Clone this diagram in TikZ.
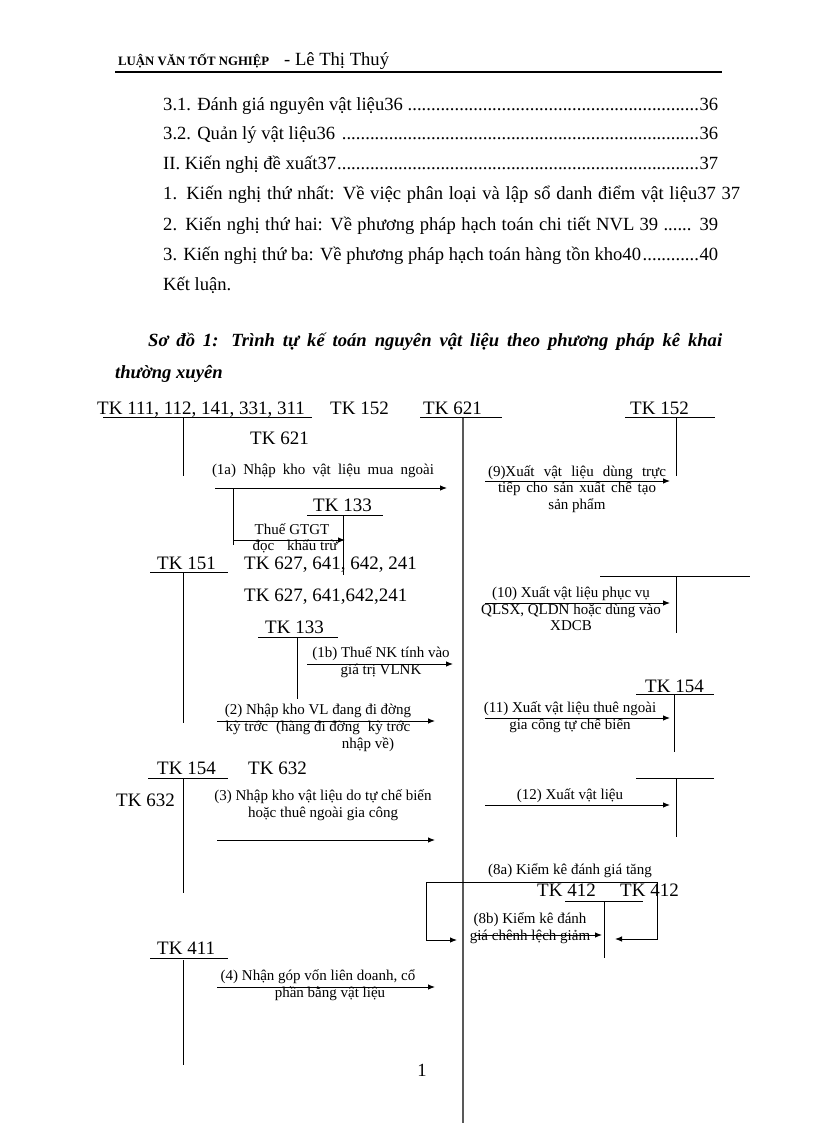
\documentclass[tikz,border=0pt]{standalone}
\usepackage{fontspec}
\setmainfont{Liberation Serif}
\usetikzlibrary{arrows.meta}
\newcommand\densedots{\leaders\hbox to 4.7pt{\hss.\hss}\hfill}
\begin{document}
\begin{tikzpicture}[x=1pt,y=-1pt,
  tk/.style={font=\fontsize{19}{19}\selectfont, inner sep=0, anchor=base west},
  toc/.style={font=\fontsize{18.6}{18.6}\selectfont, inner sep=0, anchor=base west},
  lab/.style={font=\fontsize{15}{16.5}\selectfont, inner sep=0, align=center},
  ln/.style={line width=0.9pt},
  arr/.style={line width=0.9pt, -{Latex[length=7pt,width=5.5pt]}},
  mainln/.style={line width=2pt, draw=black!65}]
\useasboundingbox (0,0) rectangle (816,1123);
\fill[white] (0,0) rectangle (816,1123);
% header
\node[inner sep=0, anchor=base west, font=\bfseries\fontsize{12.8}{12.8}\selectfont] (hd1) at (118,66) {LUẬN VĂN TỐT NGHIỆP};
\node[inner sep=0, anchor=base west, font=\fontsize{18.6}{18.6}\selectfont] (hd2) at (284,66) {- Lê Thị Thuý};
\draw[line width=2pt] (115,72) -- (722,72);
% table of contents
\node[toc] (t1) at (163,111) {\makebox[555pt][l]{3.1. Đánh giá nguyên vật liệu36 \densedots36}};
\node[toc] (t2) at (163,140) {\makebox[555pt][l]{3.2. Quản lý vật liệu36 \densedots36}};
\node[toc] (t3) at (163,170) {\makebox[555pt][l]{II. Kiến nghị đề xuất37\densedots37}};
\node[toc] (t4) at (163,200) {\makebox[577pt][s]{1. Kiến nghị thứ nhất: Về việc phân loại và lập sổ danh điểm vật liệu37 37}};
\node[toc] (t5) at (163,230) {\makebox[555pt][s]{2. Kiến nghị thứ hai: Về phương pháp hạch toán chi tiết NVL 39 ...... 39}};
\node[toc] (t6) at (163,260) {\makebox[555pt][l]{3. Kiến nghị thứ ba: Về phương pháp hạch toán hàng tồn kho40\densedots40}};
\node[toc] (t7) at (163,290) {Kết luận.};
% title
\node[inner sep=0, anchor=base west, font=\bfseries\itshape\fontsize{18.6}{18.6}\selectfont] (ti1) at (148,346) {\makebox[574pt][s]{Sơ đồ 1: Trình tự kế toán nguyên vật liệu theo phương pháp kê khai}};
\node[inner sep=0, anchor=base west, font=\bfseries\itshape\fontsize{18.6}{18.6}\selectfont] (ti2) at (115,378) {thường xuyên};
% account labels
\node[tk] (a111) at (97,414) {TK 111, 112, 141, 331, 311};
\node[tk] (a152l) at (330,414) {TK 152};
\node[tk] (a621) at (423,414) {TK 621};
\node[tk] (a152r) at (630,414) {TK 152};
\node[tk] (a621b) at (250,444) {TK 621};
\node[tk] (a133a) at (313,511) {TK 133};
\node[tk] (a151) at (157,569) {TK 151};
\node[tk] (a627a) at (244,569) {TK 627, 641, 642, 241};
\node[tk] (a627b) at (244,601) {TK 627, 641,642,241};
\node[tk] (a133b) at (265,633) {TK 133};
\node[tk] (a154r) at (645,692) {TK 154};
\node[tk] (a154l) at (157,774) {TK 154};
\node[tk] (a632a) at (248,774) {TK 632};
\node[tk] (a632b) at (116,806) {TK 632};
\node[tk] (a412a) at (537,896) {TK 412};
\node[tk] (a412b) at (620,896) {TK 412};
\node[tk] (a411) at (157,954) {TK 411};
% T-account lines
\draw[ln] (103,417) -- (312,417) (183,417) -- (183,476);
\draw[ln] (420,417) -- (502,417);
\draw[mainln] (463,418) -- (463,1123);
\draw[ln] (625,417) -- (715,417) (676,417) -- (676,476);
\draw[ln] (307,515) -- (383,515) (343,515) -- (343,575);
\draw[ln] (150,572) -- (228,572) (183,572) -- (183,723);
\draw[ln] (258,637) -- (338,637) (297,637) -- (297,699);
\draw[ln] (600,576) -- (750,576) (676,576) -- (676,633);
\draw[ln] (636,694) -- (714,694) (674,694) -- (674,752);
\draw[ln] (148,778) -- (228,778) (183,778) -- (183,893);
\draw[ln] (636,778) -- (714,778) (676,778) -- (676,837);
\draw[ln] (565,901) -- (643,901) (604,901) -- (604,958);
\draw[ln] (150,958) -- (228,958) (183,960) -- (183,1065);
% arrows
\draw[arr] (215,488) -- (447,488);
\draw[ln] (233,488) -- (233,545);
\draw[arr] (233,540) -- (345,540);
\draw[arr] (485,481) -- (670,481);
\draw[arr] (307,664) -- (453,664);
\draw[arr] (485,603) -- (670,603);
\draw[arr] (217,721) -- (435,721);
\draw[arr] (485,718) -- (670,718);
\draw[arr] (485,805) -- (670,805);
\draw[arr] (217,840) -- (435,840);
\draw[arr] (657,882) -- (426,882) -- (426,940) -- (457,940);
\draw[arr] (657,882) -- (657,939) -- (615,939);
\draw[arr] (475,935) -- (602,935);
\draw[arr] (217,987) -- (435,987);
% arrow labels
\node[lab] (l1a) at (323,471) {\makebox[222pt][s]{(1a) Nhập kho vật liệu mua ngoài}};
\node[lab] (l9) at (577,489) {\makebox[178pt][s]{(9)Xuất vật liệu dùng trực}\\\makebox[158pt][s]{tiếp cho sản xuất chế tạo}\\sản phẩm};
\node[lab] (lg1) at (292,529) {Thuế GTGT};
\node[lab] (lg2) at (295,546) {đọc\hspace{13pt}khấu trừ};
\node[lab] (l10) at (571,609) {(10) Xuất vật liệu phục vụ\\QLSX, QLDN hoặc dùng vào\\XDCB};
\node[lab] (l1b) at (381,662) {(1b) Thuế NK tính vào\\giá trị VLNK};
\node[lab] (l2a) at (318,711) {(2) Nhập kho VL đang đi đờng};
\node[lab] (l2b) at (318,728) {kỳ trớc\hspace{8pt}(hàng đi đờng\hspace{8pt}kỳ trớc};
\node[lab] (l2c) at (368,745) {nhập về)};
\node[lab] (l11) at (570,717) {(11) Xuất vật liệu thuê ngoài\\gia công tự chế biến};
\node[lab] (l12) at (570,796) {(12) Xuất vật liệu};
\node[lab] (l3) at (323,805) {(3) Nhập kho vật liệu do tự chế biến\\hoặc thuê ngoài gia công};
\node[lab] (l8a) at (570,871) {(8a) Kiểm kê đánh giá tăng};
\node[lab] (l8b) at (530,928) {(8b) Kiểm kê đánh\\giá chênh lệch giảm};
\node[lab] (l4a) at (318,977) {(4) Nhận góp vốn liên doanh, cổ};
\node[lab] (l4b) at (330,994) {phần bằng vật liệu};
\node[inner sep=0, font=\fontsize{18.6}{18.6}\selectfont] (pg) at (422,1070) {1};
\end{tikzpicture}
\end{document}
